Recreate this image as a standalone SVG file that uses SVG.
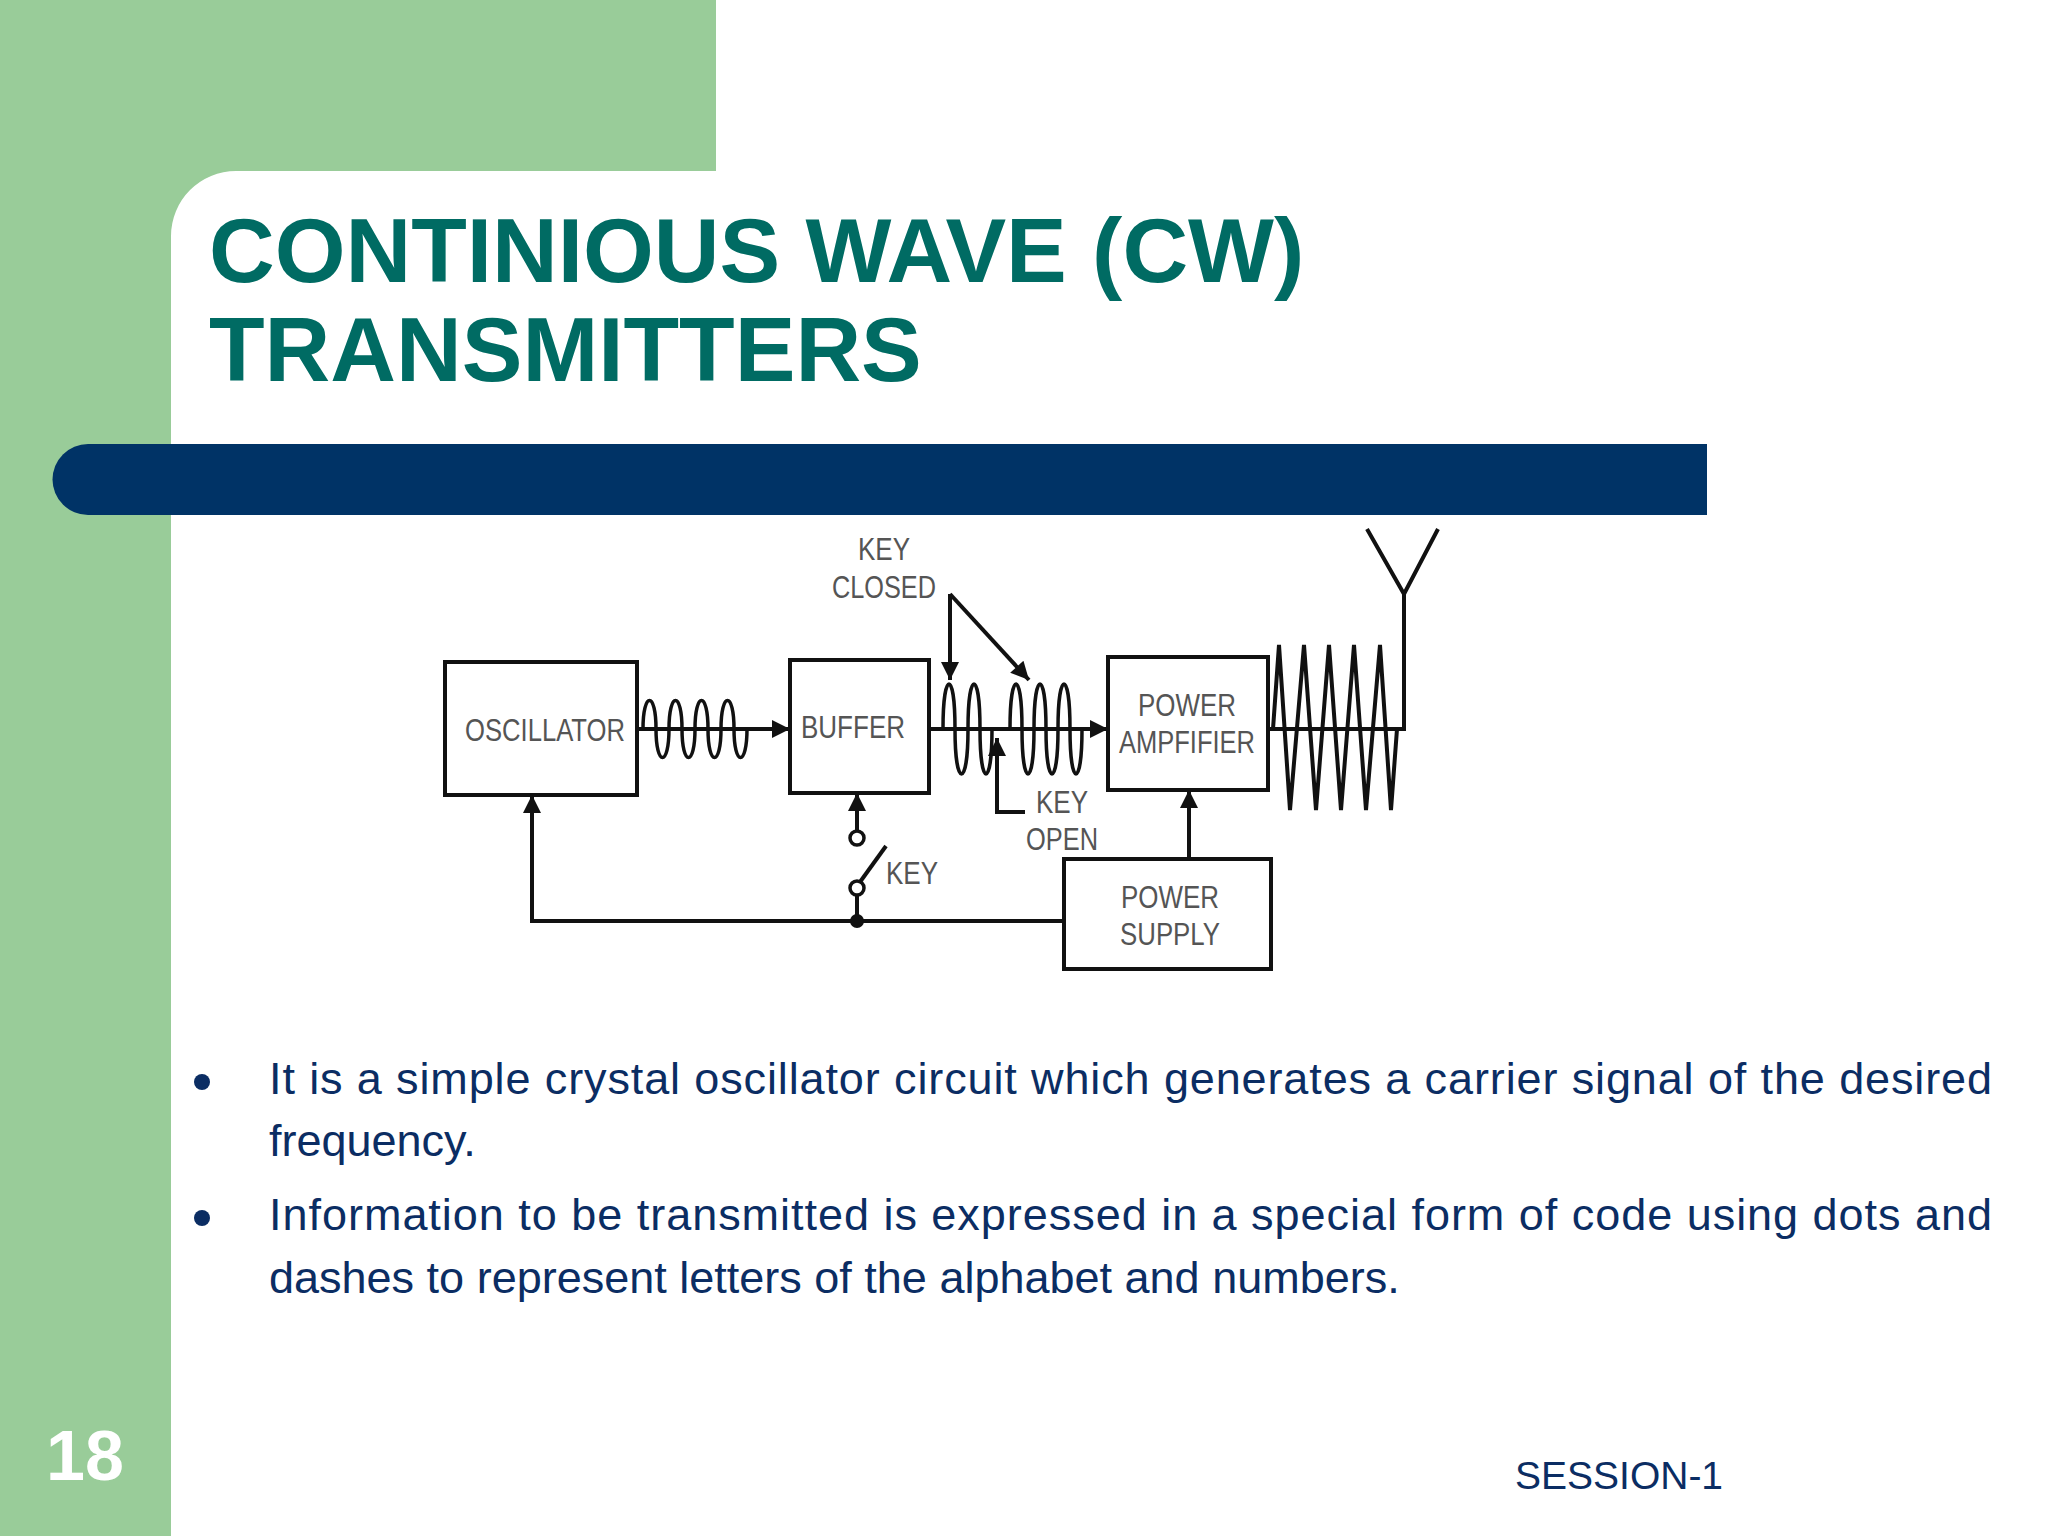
<svg xmlns="http://www.w3.org/2000/svg" width="2048" height="1536" viewBox="0 0 2048 1536">
<defs>
<marker id="ah" viewBox="0 0 10 10" refX="10" refY="5" markerWidth="20" markerHeight="18" markerUnits="userSpaceOnUse" orient="auto"><path d="M0,0 L10,5 L0,10 z" fill="#111"/></marker>
<style>
.ln{stroke:#111;stroke-width:4;fill:none}
.ar{stroke:#111;stroke-width:4;fill:none;marker-end:url(#ah)}
.bx{stroke:#111;stroke-width:4;fill:#fff}
.lb{font-family:"Liberation Sans",Arial,sans-serif;font-size:32px;fill:#555;text-anchor:middle}
.bt{font-family:"Liberation Sans",Arial,sans-serif;font-size:45px;fill:#0B2D63}
.wv{stroke:#111;stroke-width:3.5;fill:none}
</style>
</defs>
<rect width="2048" height="1536" fill="#fff"/>
<rect x="0" y="0" width="171" height="1536" fill="#99CC99"/>
<rect x="0" y="0" width="716" height="171" fill="#99CC99"/>
<path d="M171,171 L236,171 A65,65 0 0 0 171,236 Z" fill="#99CC99"/>
<g id="title" font-family="Liberation Sans,Arial,sans-serif" font-weight="bold" font-size="91" fill="#006B63">
<text x="209" y="282">CONTINIOUS WAVE (CW)</text>
<text x="209" y="381">TRANSMITTERS</text>
</g>
<path d="M88,444 L1707,444 L1707,515 L88,515 A35.5,35.5 0 0 1 88,444 Z" fill="#003366"/>
<g id="oscillator"><rect class="bx" x="445" y="662" width="192" height="133"/><text class="lb" x="545" y="741" textLength="160" lengthAdjust="spacingAndGlyphs">OSCILLATOR</text></g>
<g id="buffer"><rect class="bx" x="790" y="660" width="139" height="133"/><text class="lb" x="853" y="738" textLength="104" lengthAdjust="spacingAndGlyphs">BUFFER</text></g>
<g id="power-amplifier"><rect class="bx" x="1108" y="657" width="160" height="133"/><text class="lb" x="1187" y="716" textLength="98" lengthAdjust="spacingAndGlyphs">POWER</text><text class="lb" x="1187" y="753" textLength="136" lengthAdjust="spacingAndGlyphs">AMPFIFIER</text></g>
<g id="power-supply"><rect class="bx" x="1064" y="859" width="207" height="110"/><text class="lb" x="1170" y="908" textLength="98" lengthAdjust="spacingAndGlyphs">POWER</text><text class="lb" x="1170" y="945" textLength="100" lengthAdjust="spacingAndGlyphs">SUPPLY</text></g>
<g id="labels">
<text class="lb" x="884" y="560" textLength="52" lengthAdjust="spacingAndGlyphs">KEY</text>
<text class="lb" x="884" y="598" textLength="104" lengthAdjust="spacingAndGlyphs">CLOSED</text>
<text class="lb" x="1062" y="813" textLength="52" lengthAdjust="spacingAndGlyphs">KEY</text>
<text class="lb" x="1062" y="850" textLength="72" lengthAdjust="spacingAndGlyphs">OPEN</text>
<text class="lb" x="912" y="884" textLength="52" lengthAdjust="spacingAndGlyphs">KEY</text>
</g>
<g id="connectors">
<line class="ar" x1="637" y1="729" x2="790" y2="729"/>
<path class="wv" d="M643,729 c0,-38 13,-38 13,0 c0,38 13,38 13,0 c0,-38 13,-38 13,0 c0,38 13,38 13,0 c0,-38 13,-38 13,0 c0,38 13,38 13,0 c0,-38 13,-38 13,0 c0,38 13,38 13,0"/>
<line class="ar" x1="929" y1="729" x2="1108" y2="729"/>
<path class="wv" d="M943,729 c0,-60 12,-60 12,0 c0,60 13,60 13,0 c0,-60 12,-60 12,0 c0,60 12,60 12,0"/>
<path class="wv" d="M1010,729 c0,-60 12,-60 12,0 c0,60 12,60 12,0 c0,-60 12,-60 12,0 c0,60 12,60 12,0 c0,-60 12,-60 12,0 c0,60 12,60 12,0"/>
<polyline class="ln" points="1268,729 1404,729 1404,594"/>
<polyline class="ln" points="1367,529 1404,594 1438,529"/>
<polyline class="ln" points="1273,729 1279,645 1290,810 1304,645 1316,810 1329,645 1341,810 1354,645 1366,810 1380,645 1391,810 1397,729"/>
<line class="ar" x1="950" y1="594" x2="950" y2="680"/>
<line class="ar" x1="950" y1="594" x2="1029" y2="680"/>
<polyline class="ar" points="1025,812 997,812 997,738"/>
<polyline class="ln" points="1064,921 532,921 532,812"/>
<line class="ar" x1="532" y1="840" x2="532" y2="795"/>
<line class="ar" x1="857" y1="831" x2="857" y2="793"/>
<circle cx="857" cy="838" r="7" fill="#fff" stroke="#111" stroke-width="3.5"/>
<line class="ln" x1="860" y1="882" x2="886" y2="846"/>
<circle cx="857" cy="888" r="7" fill="#fff" stroke="#111" stroke-width="3.5"/>
<line class="ln" x1="857" y1="895" x2="857" y2="921"/>
<circle cx="857" cy="921" r="7" fill="#111"/>
<line class="ar" x1="1189" y1="859" x2="1189" y2="790"/>
</g>
<g id="bullets">
<circle cx="202" cy="1082" r="8" fill="#0B2D63"/>
<circle cx="202" cy="1218" r="8" fill="#0B2D63"/>
<text class="bt" x="269" y="1094" textLength="1723" lengthAdjust="spacing">It is a simple crystal oscillator circuit which generates a carrier signal of the desired</text>
<text class="bt" x="269" y="1156">frequency.</text>
<text class="bt" x="269" y="1230" textLength="1723" lengthAdjust="spacing">Information to be transmitted is expressed in a special form of code using dots and</text>
<text class="bt" x="269" y="1293">dashes to represent letters of the alphabet and numbers.</text>
</g>
<text x="46" y="1480" font-family="Liberation Sans,Arial,sans-serif" font-weight="bold" font-size="70" fill="#fff">18</text>
<text x="1515" y="1489" font-family="Liberation Sans,Arial,sans-serif" font-size="39" fill="#0B2D63">SESSION-1</text>
</svg>
